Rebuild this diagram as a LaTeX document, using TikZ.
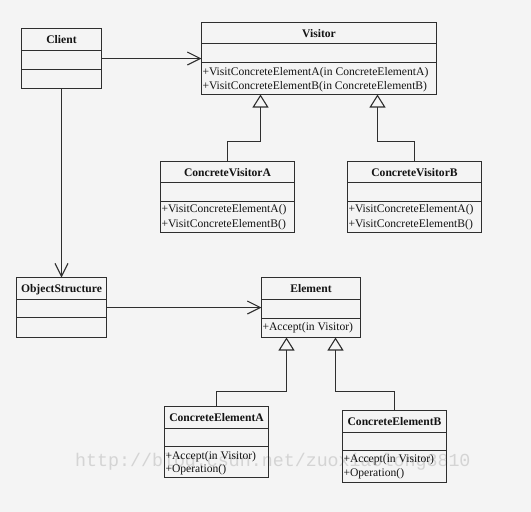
\documentclass[tikz,border=0pt]{standalone}
\usepackage{fontspec}
\setmainfont{Liberation Serif}
\newfontfamily\wmfont{Liberation Mono}
\usetikzlibrary{arrows.meta,calc}

\definecolor{bg}{HTML}{F4F4F4}
\definecolor{ink}{HTML}{2E2E2E}
\definecolor{txt}{HTML}{141414}
\definecolor{wm}{HTML}{D4D4D4}

\tikzset{
  classbox/.style={draw=ink, line width=1.2pt, rectangle, inner sep=0pt, outer sep=0pt},
  divider/.style={draw=ink, line width=1.2pt},
  titletext/.style={font=\fontsize{11.6}{14}\selectfont\bfseries, text=txt, inner sep=0pt, anchor=base},
  membertext/.style={font=\fontsize{11.6}{14}\selectfont, text=txt, inner sep=0pt, anchor=base west},
  wmtext/.style={font=\wmfont\fontsize{18.3}{20}\selectfont, text=wm, inner sep=0pt, anchor=base west},
  assoc/.style={draw=ink, line width=1.1pt, -{Straight Barb[length=13pt,width=13pt,line width=1.1pt]}},
  realize/.style={draw=ink, line width=1.1pt, -{Triangle[open,fill=bg,length=13pt,width=16pt,line width=1.1pt]}},
}

% #1 name, #2 left, #3 top, #4 right, #5 bottom, #6 first divider, #7 second divider, #8 class name
\newcommand{\umlclass}[8]{%
  \node[classbox, minimum width={(#4)-(#2)}, minimum height={(#5)-(#3)}]
    (#1) at ({((#2)+(#4))/2},{((#3)+(#5))/2}) {};
  \draw[divider] (#2,#6) -- (#4,#6) (#2,#7) -- (#4,#7);
  \node[titletext] (#1-title) at ({((#2)+(#4))/2},{((#3)+(#6))/2+4}) {#8};
}
% #1 node name, #2 x, #3 baseline y, #4 text
\newcommand{\umlmember}[4]{\node[membertext] (#1) at (#2,#3) {#4};}

\begin{document}
\begin{tikzpicture}[x=1pt, y=-1pt]
  \fill[bg] (0,0) rectangle (531,512);
  \useasboundingbox (0,0) rectangle (531,512);

  % blog address behind the diagram
  \node[wmtext] (watermark) at (75,466.5) {http://blog.csdn.net/zuoxiaolong8810};

  % classes
  \umlclass{client}{21.5}{28.5}{101.5}{88.5}{50.5}{69.5}{Client}

  \umlclass{visitor}{201.5}{22.5}{436.5}{94.5}{43.5}{62.5}{Visitor}
  \umlmember{visitor-m1}{202.3}{75}{+VisitConcreteElementA(in ConcreteElementA)}
  \umlmember{visitor-m2}{202.3}{89.6}{+VisitConcreteElementB(in ConcreteElementB)}

  \umlclass{cva}{160.5}{161.5}{294.5}{232.5}{182.5}{201.5}{ConcreteVisitorA}
  \umlmember{cva-m1}{161.3}{212.8}{+VisitConcreteElementA()}
  \umlmember{cva-m2}{161.3}{227.3}{+VisitConcreteElementB()}

  \umlclass{cvb}{347.5}{161.5}{481.5}{232.5}{182.5}{201.5}{ConcreteVisitorB}
  \umlmember{cvb-m1}{348.3}{212.8}{+VisitConcreteElementA()}
  \umlmember{cvb-m2}{348.3}{227.3}{+VisitConcreteElementB()}

  \umlclass{os}{16.5}{277.5}{106.5}{337.5}{299.5}{317.5}{ObjectStructure}

  \umlclass{element}{261.5}{277.5}{360.5}{337.5}{299.5}{318.5}{Element}
  \umlmember{element-m1}{262.3}{330.5}{+Accept(in Visitor)}

  \umlclass{cea}{164.5}{406.5}{268.5}{477.5}{428.5}{446.5}{ConcreteElementA}
  \umlmember{cea-m1}{165.3}{459}{+Accept(in Visitor)}
  \umlmember{cea-m2}{165.3}{472.5}{+Operation()}

  \umlclass{ceb}{342.5}{410.5}{446.5}{482.5}{432.5}{450.5}{ConcreteElementB}
  \umlmember{ceb-m1}{343.3}{462.5}{+Accept(in Visitor)}
  \umlmember{ceb-m2}{343.3}{476.5}{+Operation()}

  % associations
  \draw[assoc] (client.east) -- (client.east -| visitor.west);
  \draw[assoc] (client.south) -- (client.south |- os.north);
  \draw[assoc] (os.east) -- (os.east -| element.west);

  % generalizations
  \coordinate (v1) at ($(visitor.south west)+(59,0)$);
  \coordinate (v2) at ($(visitor.south west)+(176,0)$);
  \coordinate (e1) at ($(element.south west)+(25,0)$);
  \coordinate (e2) at ($(element.south west)+(74,0)$);
  \draw[realize] (cva.north) -- ++(0,-20) -| (v1);
  \draw[realize] (cvb.north) -- ++(0,-20) -| (v2);
  \draw[realize] (cea.north) -- ++(0,-15) -| (e1);
  \draw[realize] (ceb.north) -- ++(0,-19) -| (e2);
\end{tikzpicture}
\end{document}
